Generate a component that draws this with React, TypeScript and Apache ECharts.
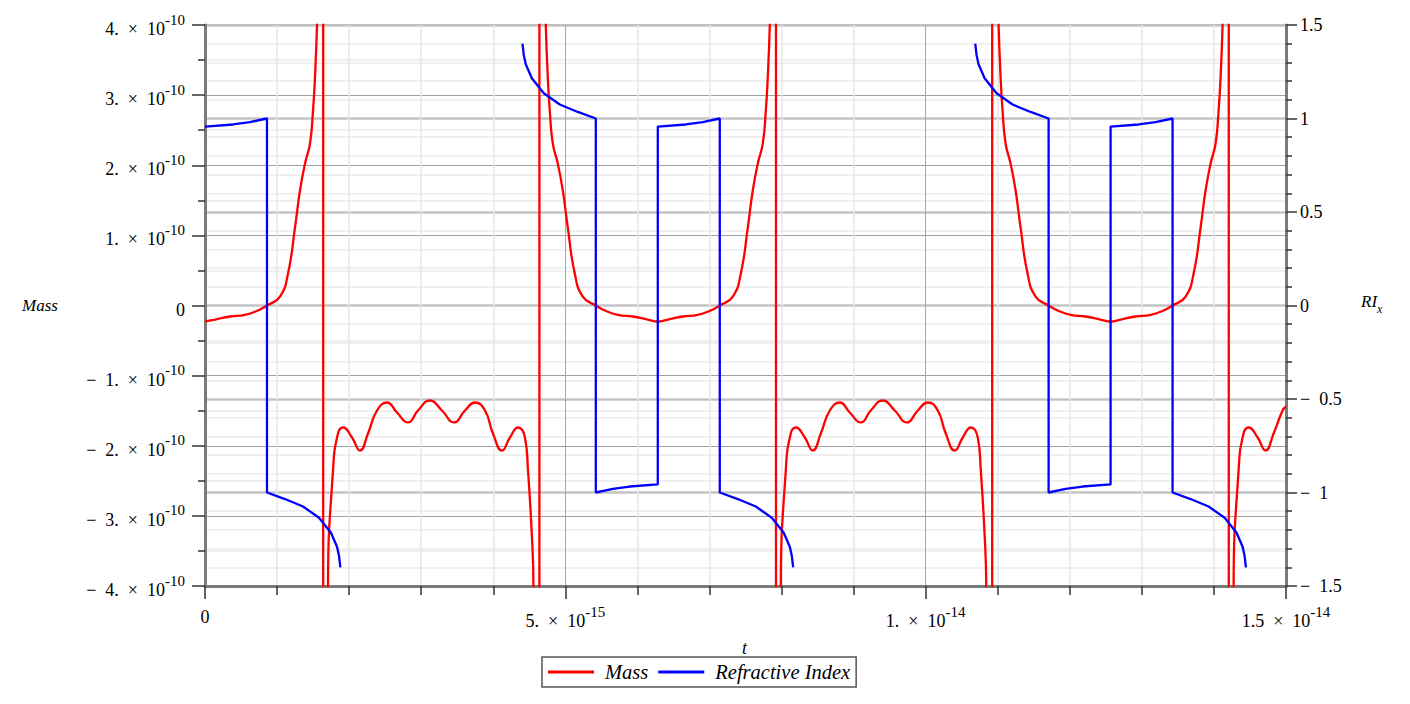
import React, { useEffect, useRef } from 'react';
import * as echarts from 'echarts';

const FONT = '"Liberation Serif", "Times New Roman", serif';
const SP = '\u2002';

// t in units of 1e-15 s, Mass in units of 1e-10, RI dimensionless
const xTickValues = [0, 5, 10, 15];
const xTickMantissa = ['0', '5.', '1.', '1.5'];
const xTickExponent = ['', '-15', '-14', '-14'];
const massExponent = '-10';

const massTrough1: [number, number][] = [
  [0, -0.228], [0.139, -0.2], [0.347, -0.157], [0.555, -0.135], [0.735, -0.071], [0.86, 0],
  [1.041, 0.128], [1.152, 0.456], [1.249, 1.112], [1.318, 1.64], [1.388, 2.025], [1.457, 2.31],
  [1.499, 2.781], [1.526, 3.251], [1.554, 3.993], [1.582, 5.205],
];
const massOsc1: [number, number][] = [
  [1.693, -12], [1.707, -4.007], [1.776, -2.353], [1.845, -1.825], [1.915, -1.74], [2.04, -1.882],
  [2.151, -2.068], [2.262, -1.825], [2.387, -1.497], [2.525, -1.383], [2.664, -1.526], [2.817, -1.668],
  [2.955, -1.497], [3.122, -1.355], [3.288, -1.497], [3.455, -1.668], [3.608, -1.497], [3.746, -1.383],
  [3.885, -1.497], [3.996, -1.825], [4.121, -2.068], [4.232, -1.882], [4.343, -1.74], [4.44, -1.882],
  [4.482, -2.353], [4.537, -3.308], [4.558, -4.007], [4.579, -12],
];
const massTrough2: [number, number][] = [
  [4.701, 5.205], [4.729, 3.993], [4.757, 3.251], [4.784, 2.781], [4.826, 2.31], [4.895, 2.025],
  [4.965, 1.64], [5.034, 1.112], [5.131, 0.456], [5.242, 0.128], [5.423, 0], [5.548, -0.071],
  [5.728, -0.135], [5.936, -0.157], [6.144, -0.2], [6.283, -0.228], [6.422, -0.2], [6.63, -0.157],
  [6.838, -0.135], [7.018, -0.071], [7.143, 0], [7.324, 0.128], [7.435, 0.456], [7.532, 1.112],
  [7.601, 1.64], [7.671, 2.025], [7.74, 2.31], [7.782, 2.781], [7.809, 3.251], [7.837, 3.993],
  [7.865, 5.205],
];
const massOsc2: [number, number][] = [
  [7.976, -12], [7.99, -4.007], [8.059, -2.353], [8.128, -1.825], [8.198, -1.74], [8.323, -1.882],
  [8.434, -2.068], [8.545, -1.825], [8.67, -1.497], [8.808, -1.383], [8.947, -1.526], [9.1, -1.668],
  [9.238, -1.497], [9.405, -1.355], [9.571, -1.497], [9.738, -1.668], [9.891, -1.497], [10.029, -1.383],
  [10.168, -1.497], [10.279, -1.825], [10.404, -2.068], [10.515, -1.882], [10.626, -1.74], [10.723, -1.882],
  [10.765, -2.353], [10.82, -3.308], [10.841, -4.007], [10.862, -12],
];
const massTrough3: [number, number][] = [
  [10.984, 5.205], [11.012, 3.993], [11.04, 3.251], [11.067, 2.781], [11.109, 2.31], [11.178, 2.025],
  [11.248, 1.64], [11.317, 1.112], [11.414, 0.456], [11.525, 0.128], [11.706, 0], [11.831, -0.071],
  [12.011, -0.135], [12.219, -0.157], [12.427, -0.2], [12.566, -0.228], [12.705, -0.2], [12.913, -0.157],
  [13.121, -0.135], [13.301, -0.071], [13.426, 0], [13.607, 0.128], [13.718, 0.456], [13.815, 1.112],
  [13.884, 1.64], [13.954, 2.025], [14.023, 2.31], [14.065, 2.781], [14.092, 3.251], [14.12, 3.993],
  [14.148, 5.205],
];
const massOsc3: [number, number][] = [
  [14.259, -12], [14.273, -4.007], [14.342, -2.353], [14.411, -1.825], [14.481, -1.74], [14.606, -1.882],
  [14.717, -2.068], [14.828, -1.825], [14.953, -1.497], [15.0, -1.44],
];
// vertical connecting lines drawn across the singularities
const massJumps = [1.64, 4.64, 7.923, 10.923, 14.206];

const riSegment1: [number, number][] = [
  [0, 0.957], [0.389, 0.968], [0.624, 0.981], [0.86, 1.0], [0.86, -1.0], [1.11, -1.035], [1.36, -1.075],
  [1.582, -1.135], [1.748, -1.215], [1.832, -1.29], [1.86, -1.34], [1.878, -1.4],
];
const riSegment2: [number, number][] = [
  [4.405, 1.4], [4.423, 1.34], [4.451, 1.29], [4.535, 1.215], [4.701, 1.135], [4.923, 1.075], [5.173, 1.035],
  [5.423, 1.0], [5.423, -1.0], [5.659, -0.981], [5.894, -0.968], [6.283, -0.957], [6.283, 0.957],
  [6.672, 0.968], [6.907, 0.981], [7.143, 1.0], [7.143, -1.0], [7.393, -1.035], [7.643, -1.075],
  [7.865, -1.135], [8.031, -1.215], [8.115, -1.29], [8.143, -1.34], [8.161, -1.4],
];
const riSegment3: [number, number][] = [
  [10.688, 1.4], [10.706, 1.34], [10.734, 1.29], [10.818, 1.215], [10.984, 1.135], [11.206, 1.075],
  [11.456, 1.035], [11.706, 1.0], [11.706, -1.0], [11.942, -0.981], [12.177, -0.968], [12.566, -0.957],
  [12.566, 0.957], [12.955, 0.968], [13.19, 0.981], [13.426, 1.0], [13.426, -1.0], [13.676, -1.035],
  [13.926, -1.075], [14.148, -1.135], [14.314, -1.215], [14.398, -1.29], [14.426, -1.34], [14.444, -1.4],
];

const MASS_COLOR = '#ff0000';
const RI_COLOR = '#0000ff';

function makeRich() {
  return {
    m: { fontFamily: FONT, fontSize: 18, color: '#000', lineHeight: 34 },
    z: { fontFamily: FONT, fontSize: 18, color: '#000', lineHeight: 26 },
    e: { fontFamily: FONT, fontSize: 15, color: '#000', lineHeight: 16, verticalAlign: 'top' },
  };
}

function buildOption() {
  const massBranches = [massTrough1, massOsc1, massTrough2, massOsc2, massTrough3, massOsc3];
  const riSegments = [riSegment1, riSegment2, riSegment3];
  const series: any[] = [];
  massBranches.forEach((d) => {
    series.push({
      type: 'line', name: 'Mass', data: d, yAxisIndex: 0, smooth: 0.5,
      symbol: 'none', showSymbol: false, color: MASS_COLOR,
      lineStyle: { color: MASS_COLOR, width: 2.3 }, z: 3,
    });
  });
  massJumps.forEach((t) => {
    series.push({
      type: 'line', name: 'Mass', data: [[t, 12], [t, -12]], yAxisIndex: 0,
      symbol: 'none', showSymbol: false, color: MASS_COLOR,
      lineStyle: { color: MASS_COLOR, width: 2.3 }, z: 3,
    });
  });
  riSegments.forEach((d) => {
    series.push({
      type: 'line', name: 'Refractive Index', data: d, yAxisIndex: 1,
      symbol: 'none', showSymbol: false, color: RI_COLOR,
      lineStyle: { color: RI_COLOR, width: 2.3 }, z: 4,
    });
  });

  const tickStyle = { color: '#333', width: 1.5 };
  const axisLineStyle = { color: '#7a7a7a', width: 3 };

  return {
    animation: false,
    backgroundColor: '#ffffff',
    grid: {
      left: 205, right: 124, top: 25, bottom: 118, containLabel: false,
      show: true, borderColor: '#b0b0b0', borderWidth: 2, backgroundColor: 'transparent',
    },
    legend: {
      data: ['Mass', 'Refractive Index'],
      left: 542, top: 657, orient: 'horizontal',
      icon: 'rect', itemWidth: 46, itemHeight: 3, itemGap: 10,
      padding: [4, 6, 4, 6],
      borderColor: '#555', borderWidth: 1.5, borderRadius: 0,
      textStyle: { fontFamily: FONT, fontStyle: 'italic', fontSize: 20.5, color: '#000', lineHeight: 22, padding: [0, 0, 0, 6] },
    },
    xAxis: {
      type: 'value', min: 0, max: 15, interval: 5,
      axisLine: { show: true, onZero: false, lineStyle: axisLineStyle },
      axisTick: { show: true, length: 13, lineStyle: tickStyle },
      minorTick: { show: true, splitNumber: 5, length: 9, lineStyle: tickStyle },
      splitLine: { show: true, lineStyle: { color: '#a8a8a8', width: 1 } },
      minorSplitLine: { show: true, lineStyle: { color: '#e6e6e6', width: 1.5 } },
      axisLabel: {
        margin: 18, showMinLabel: true, showMaxLabel: true,
        formatter: (v: number) => {
          const i = xTickValues.indexOf(Math.round(v));
          if (i < 0) return '';
          if (!xTickExponent[i]) return `{z|${xTickMantissa[i]}}`;
          return `{m|${xTickMantissa[i]}${SP}×${SP}10}{e|${xTickExponent[i]}}`;
        },
        rich: makeRich(),
      },
    },
    yAxis: [
      {
        type: 'value', position: 'left', min: -4, max: 4, interval: 1,
        axisLine: { show: true, onZero: false, lineStyle: axisLineStyle },
        axisTick: { show: true, length: 13, lineStyle: tickStyle },
        minorTick: { show: true, splitNumber: 2, length: 7, lineStyle: tickStyle },
        splitLine: { show: true, lineStyle: { color: '#a0a0a0', width: 1 } },
        minorSplitLine: { show: true, lineStyle: { color: '#ebebeb', width: 1.5 } },
        axisLabel: {
          margin: 20,
          padding: [8, 0, 0, 0],
          formatter: (v: number) => {
            const r = Math.round(v);
            if (r === 0) return '{m|0}';
            return `{m|${r < 0 ? '−' + SP : ''}${Math.abs(r)}.${SP}×${SP}10}{e|${massExponent}}`;
          },
          rich: makeRich(),
        },
      },
      {
        type: 'value', position: 'right', min: -1.5, max: 1.5, interval: 0.5,
        axisLine: { show: true, onZero: false, lineStyle: axisLineStyle },
        axisTick: { show: true, length: 11, lineStyle: tickStyle },
        minorTick: { show: true, splitNumber: 5, length: 6, lineStyle: tickStyle },
        splitLine: { show: true, lineStyle: { color: '#c4c4c4', width: 2.5 } },
        minorSplitLine: { show: true, lineStyle: { color: '#ebebeb', width: 1.5 } },
        axisLabel: {
          margin: 14,
          padding: [3, 0, 0, 0],
          formatter: (v: number) => {
            const r = Math.round(v * 10) / 10;
            if (r === 0) return '0';
            return r < 0 ? `−${SP}${Math.abs(r)}` : `${r}`;
          },
          fontFamily: FONT, fontSize: 18, color: '#000',
        },
      },
    ],
    graphic: [
      {
        type: 'text', left: 22, top: 297,
        style: { text: 'Mass', font: `italic 17px ${FONT}`, fill: '#000' },
      },
      {
        type: 'text', left: 1361, top: 293,
        style: {
          text: '{a|RI}{b|x}', fill: '#000',
          rich: {
            a: { fontFamily: FONT, fontStyle: 'italic', fontSize: 17, lineHeight: 26 },
            b: { fontFamily: FONT, fontStyle: 'italic', fontSize: 12, lineHeight: 14, verticalAlign: 'bottom' },
          },
        },
      },
      {
        type: 'text', left: 742, top: 639,
        style: { text: 't', font: `italic 18px ${FONT}`, fill: '#000' },
      },
    ],
    series,
  };
}

export default function App() {
  const ref = useRef<HTMLDivElement>(null);
  useEffect(() => {
    if (!ref.current) return;
    const chart = echarts.init(ref.current, undefined, { renderer: 'svg' });
    chart.setOption(buildOption() as any);
    return () => chart.dispose();
  }, []);
  return (
    <div
      ref={ref}
      style={{ position: 'fixed', left: 0, top: 0, width: 1410, height: 704, background: '#fff' }}
    />
  );
}
